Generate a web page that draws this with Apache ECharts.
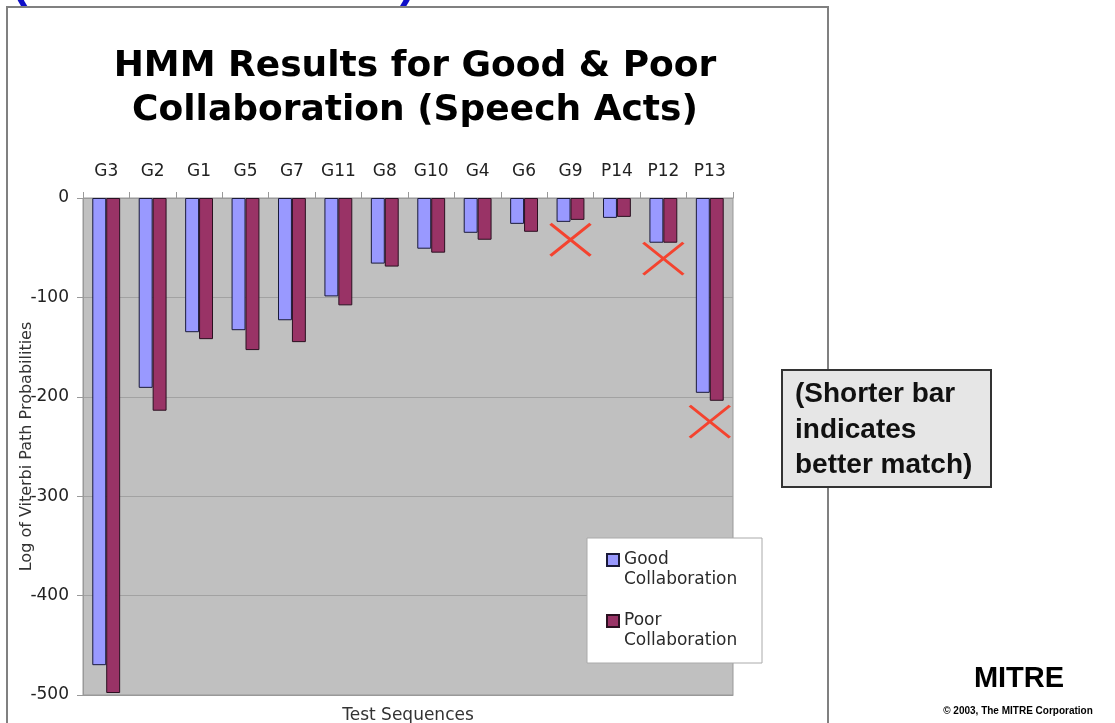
<!DOCTYPE html>
<html>
<head>
<meta charset="utf-8">
<script src="https://cdn.jsdelivr.net/npm/echarts@6/dist/echarts.min.js"></script>
<style>
html,body{margin:0;padding:0;background:#fff;}
#c{width:1115px;height:723px;}
</style>
</head>
<body>
<div id="c"></div>
<script>
var categories = ['G3','G2','G1','G5','G7','G11','G8','G10','G4','G6','G9','P14','P12','P13'];
var goodValues = [-470, -191, -135, -133, -123, -99, -66, -51, -35, -26, -24, -20, -45, -196];
var poorValues = [-498, -214, -142, -153, -145, -108, -69, -55, -42, -34, -22, -19, -45, -204];
var mismatchCats = ['G9', 'P12', 'P13'];
var mismatchVals = [-42, -61, -225];
var yTicks = [-500, -400, -300, -200, -100, 0];

var chart = echarts.init(document.getElementById('c'));
var FF = 'DejaVu Sans';
chart.setOption({
  animation: false,
  textStyle: {fontFamily: FF},
  grid: {left: 83, top: 198, width: 650, height: 497, show: true, outerBoundsMode: 'none',
         containLabel: false,
         backgroundColor: '#c0c0c0', borderColor: '#999', borderWidth: 1},
  legend: {
    data: ['Good Collaboration', 'Poor Collaboration'],
    orient: 'vertical', left: 606, top: 530, padding: 0,
    itemWidth: 12, itemHeight: 12, itemGap: 1, icon: 'rect',
    formatter: function (n) { return ' \n' + n.replace(' ', '\n'); },
    textStyle: {fontFamily: FF, fontSize: 17, lineHeight: 20, color: '#2a2a2a'}
  },
  xAxis: [{
    type: 'category', position: 'top', data: categories,
    axisLine: {show: true, lineStyle: {color: '#999'}},
    axisTick: {show: true, length: 6, lineStyle: {color: '#999'}},
    axisLabel: {fontSize: 17, color: '#222', margin: 18, interval: 0, fontFamily: FF},
    splitLine: {show: false}
  }, {
    type: 'category', position: 'bottom', data: categories,
    name: 'Test Sequences', nameLocation: 'middle', nameGap: 12,
    nameTextStyle: {fontSize: 17, color: '#333', fontFamily: FF},
    axisLine: {show: true, lineStyle: {color: '#999'}},
    axisTick: {show: false}, axisLabel: {show: false}
  }],
  yAxis: {
    type: 'value', min: yTicks[0], max: yTicks[yTicks.length - 1], interval: 100,
    name: 'Log of Viterbi Path Probabilities', nameLocation: 'middle', nameGap: 48,
    nameMoveOverlap: false,
    nameTextStyle: {fontSize: 16, color: '#333', fontFamily: FF},
    axisLine: {show: true, lineStyle: {color: '#999'}},
    axisTick: {show: true, length: 6, lineStyle: {color: '#999'}},
    axisLabel: {fontSize: 17, color: '#222', margin: 14, fontFamily: FF},
    splitLine: {show: true, lineStyle: {color: '#a2a2a2', width: 1}}
  },
  series: [{
    name: 'Good Collaboration', type: 'bar', data: goodValues,
    barGap: '0%', barCategoryGap: '40%',
    itemStyle: {color: '#9999ff', borderColor: '#1a1a3a', borderWidth: 1}
  }, {
    name: 'Poor Collaboration', type: 'bar', data: poorValues,
    barGap: '0%', barCategoryGap: '40%',
    itemStyle: {color: '#993366', borderColor: '#2a1020', borderWidth: 1}
  }, {
    name: 'Mismatch', type: 'scatter', z: 5,
    data: mismatchCats.map(function (c, i) { return [c, mismatchVals[i]]; }),
    symbol: 'path://M0,0L40,32M40,0L0,32', symbolSize: [40, 32],
    itemStyle: {color: 'rgba(0,0,0,0)', borderColor: '#f4432f', borderWidth: 3, opacity: 1}
  }],
  graphic: [
    {type: 'rect', z: -1, silent: true, shape: {x: 7, y: 7, width: 821, height: 740},
     style: {fill: 'none', stroke: '#808080', lineWidth: 2}},
    {type: 'text', silent: true, x: 12, y: -40,
     style: {text: '(', font: 'bold 46px "Liberation Sans"', fill: '#1010c8'}},
    {type: 'text', silent: true, x: 400, y: -40,
     style: {text: ')', font: 'bold 46px "Liberation Sans"', fill: '#1010c8'}},
    {type: 'text', silent: true, x: 415, y: 45,
     style: {text: 'HMM Results for Good & Poor\nCollaboration (Speech Acts)',
             font: 'bold 36px "DejaVu Sans"', fill: '#000', textAlign: 'center', lineHeight: 44}},
    {type: 'rect', z: 3, silent: true, shape: {x: 587, y: 538, width: 175, height: 125},
     style: {fill: '#fff', stroke: '#aaa', lineWidth: 1}},
    {type: 'rect', z: 10, silent: true, shape: {x: 782, y: 370, width: 209, height: 117},
     style: {fill: '#e6e6e6', stroke: '#333', lineWidth: 2}},
    {type: 'text', z: 11, silent: true, x: 795, y: 377,
     style: {text: '(Shorter bar\nindicates\nbetter match)', font: 'bold 28px "Liberation Sans"',
             fill: '#111', lineHeight: 35.5}},
    {type: 'text', silent: true, x: 1019, y: 664,
     style: {text: 'MITRE', font: 'bold 29px "Liberation Sans"', fill: '#000', textAlign: 'center'}},
    {type: 'text', silent: true, x: 1018, y: 706,
     style: {text: '\u00a9 2003, The MITRE Corporation', font: 'bold 10px "Liberation Sans"',
             fill: '#000', textAlign: 'center'}}
  ]
});
</script>
</body>
</html>
